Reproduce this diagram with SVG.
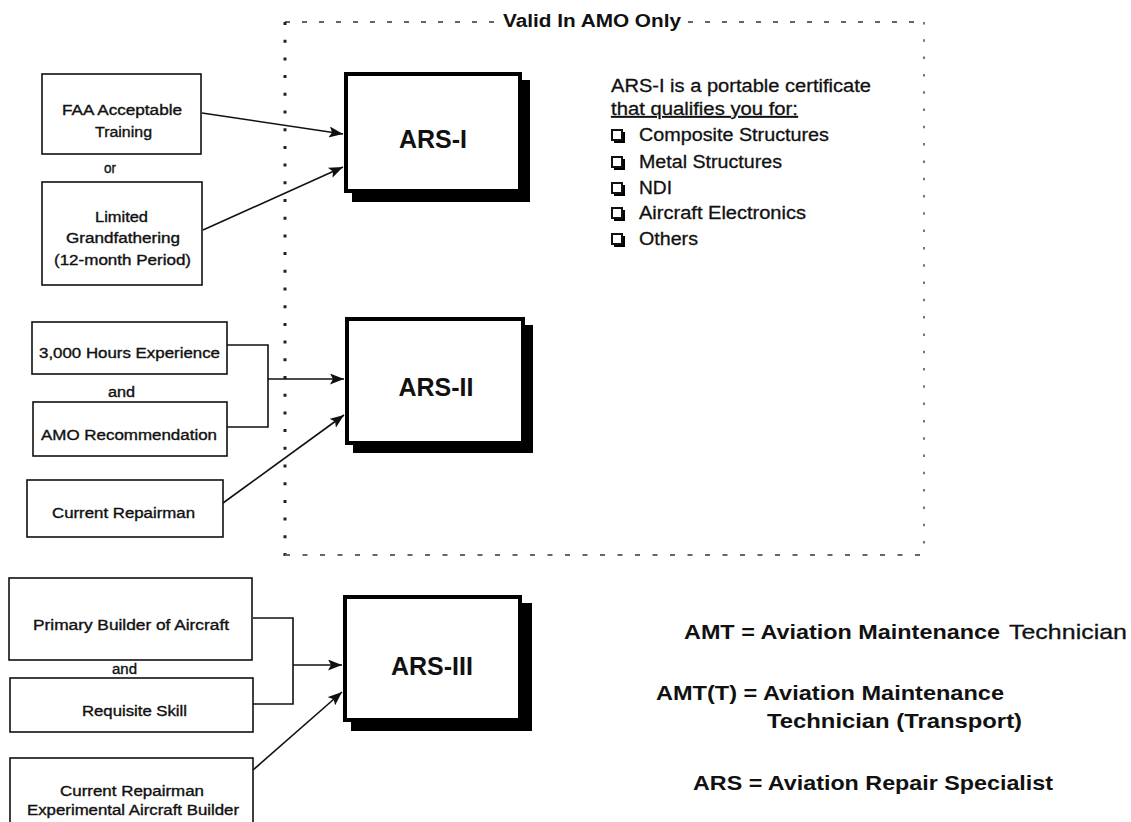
<svg xmlns="http://www.w3.org/2000/svg" width="1131" height="822" viewBox="0 0 1131 822">
<style>
  .bg { fill: #ffffff; }
  .box { fill: #ffffff; stroke: #111; stroke-width: 1.6; }
  .main { fill: #ffffff; stroke: #000; stroke-width: 4; }
  .shadow { fill: #000; }
  .t { font-family: "Liberation Sans", Arial, sans-serif; font-size: 14px; fill: #111; stroke: #111; stroke-width: 0.35; }
  .big { font-family: "Liberation Sans", Arial, sans-serif; font-size: 25px; font-weight: bold; fill: #111; text-anchor: middle; }
  .desc { font-family: "Liberation Sans", Arial, sans-serif; font-size: 18px; fill: #111; stroke: #111; stroke-width: 0.3; }
  .leg { font-family: "Liberation Sans", Arial, sans-serif; font-size: 21px; font-weight: bold; fill: #111; }
  .legn { font-family: "Liberation Sans", Arial, sans-serif; font-size: 21px; fill: #111; stroke: #111; stroke-width: 0.3; }
  .title { font-family: "Liberation Sans", Arial, sans-serif; font-size: 18px; font-weight: bold; fill: #111; }
  .conn { fill: none; stroke: #111; stroke-width: 1.6; }
  .chk { fill: #fff; stroke: #111; stroke-width: 2; }
  .dashT { stroke: #333; stroke-width: 1.6; stroke-dasharray: 5 12; fill: none; }
  .dotL { stroke: #222; stroke-width: 3; stroke-dasharray: 3 14.7; fill: none; }
  .dotR { stroke: #777; stroke-width: 2; stroke-dasharray: 2.5 14.8; fill: none; }
  .dashB { stroke: #666; stroke-width: 2; stroke-dasharray: 5 12.5; fill: none; }
</style>
<defs>
  <marker id="arr" markerUnits="userSpaceOnUse" markerWidth="15" markerHeight="11" refX="14" refY="5.5" orient="auto">
    <path d="M0,0 L14,5.5 L0,11 L3,5.5 z" fill="#111"/>
  </marker>
</defs>
<rect class="bg" x="0" y="0" width="1131" height="822"/>

<g id="amo-region">
  <line class="dashT" x1="285" y1="22" x2="498" y2="22"/>
  <line class="dashT" x1="688" y1="22" x2="924" y2="22"/>
  <line class="dotL" x1="285" y1="22" x2="285" y2="556"/>
  <line class="dotR" x1="924" y1="22" x2="924" y2="556"/>
  <line class="dashB" x1="285" y1="555" x2="924" y2="555"/>
  <text class="title" x="503" y="27" textLength="178" lengthAdjust="spacingAndGlyphs">Valid In AMO Only</text>
</g>

<g id="connectors">
  <line class="conn" x1="202" y1="113" x2="343" y2="134" marker-end="url(#arr)"/>
  <line class="conn" x1="203" y1="230" x2="343" y2="167" marker-end="url(#arr)"/>
  <polyline class="conn" points="227,345 268,345 268,427 227,427"/>
  <line class="conn" x1="268" y1="379" x2="344" y2="379" marker-end="url(#arr)"/>
  <line class="conn" x1="223" y1="503" x2="344" y2="415" marker-end="url(#arr)"/>
  <polyline class="conn" points="253,618 293,618 293,704 253,704"/>
  <line class="conn" x1="293" y1="665" x2="342" y2="665" marker-end="url(#arr)"/>
  <line class="conn" x1="253" y1="770" x2="342" y2="692" marker-end="url(#arr)"/>
</g>

<g id="faa-training">
  <rect class="box" x="42" y="74" width="159" height="80"/>
  <text class="t" x="62" y="115" textLength="120" lengthAdjust="spacingAndGlyphs">FAA Acceptable</text>
  <text class="t" x="95" y="137" textLength="57" lengthAdjust="spacingAndGlyphs">Training</text>
</g>
<text id="label-or" class="t" x="104" y="173" textLength="12" lengthAdjust="spacingAndGlyphs">or</text>
<g id="limited-grandfathering">
  <rect class="box" x="42" y="182" width="160" height="103"/>
  <text class="t" x="95" y="222" textLength="53" lengthAdjust="spacingAndGlyphs">Limited</text>
  <text class="t" x="66" y="243" textLength="114" lengthAdjust="spacingAndGlyphs">Grandfathering</text>
  <text class="t" x="54" y="265" textLength="137" lengthAdjust="spacingAndGlyphs">(12-month Period)</text>
</g>

<g id="hours-experience">
  <rect class="box" x="32" y="322" width="195" height="52"/>
  <text class="t" x="39" y="358" textLength="181" lengthAdjust="spacingAndGlyphs">3,000 Hours Experience</text>
</g>
<text id="label-and-1" class="t" x="108" y="397" textLength="27" lengthAdjust="spacingAndGlyphs">and</text>
<g id="amo-recommendation">
  <rect class="box" x="33" y="402" width="194" height="54"/>
  <text class="t" x="41" y="440" textLength="176" lengthAdjust="spacingAndGlyphs">AMO Recommendation</text>
</g>
<g id="current-repairman">
  <rect class="box" x="27" y="480" width="196" height="57"/>
  <text class="t" x="52" y="518" textLength="143" lengthAdjust="spacingAndGlyphs">Current Repairman</text>
</g>

<g id="primary-builder">
  <rect class="box" x="9" y="578" width="243" height="82"/>
  <text class="t" x="33" y="630" textLength="196" lengthAdjust="spacingAndGlyphs">Primary Builder of Aircraft</text>
</g>
<text id="label-and-2" class="t" x="112" y="674" textLength="25" lengthAdjust="spacingAndGlyphs">and</text>
<g id="requisite-skill">
  <rect class="box" x="10" y="678" width="243" height="54"/>
  <text class="t" x="82" y="716" textLength="105" lengthAdjust="spacingAndGlyphs">Requisite Skill</text>
</g>
<g id="experimental-builder">
  <rect class="box" x="10" y="758" width="243" height="80"/>
  <text class="t" x="60" y="796" textLength="144" lengthAdjust="spacingAndGlyphs">Current Repairman</text>
  <text class="t" x="27" y="815" textLength="212" lengthAdjust="spacingAndGlyphs">Experimental Aircraft Builder</text>
</g>

<g id="ars-1">
  <rect class="shadow" x="352" y="80" width="178" height="122"/>
  <rect class="main" x="346" y="74" width="174" height="117"/>
  <text class="big" x="433" y="148">ARS-I</text>
</g>
<g id="ars-2">
  <rect class="shadow" x="353" y="325" width="180" height="128"/>
  <rect class="main" x="347" y="319" width="176" height="124"/>
  <text class="big" x="436" y="396">ARS-II</text>
</g>
<g id="ars-3">
  <rect class="shadow" x="351" y="603" width="181" height="128"/>
  <rect class="main" x="345" y="597" width="175" height="123"/>
  <text class="big" x="432" y="675">ARS-III</text>
</g>

<g id="ars1-description">
  <text class="desc" x="611" y="92" textLength="260" lengthAdjust="spacingAndGlyphs">ARS-I is a portable certificate</text>
  <text class="desc" x="611" y="115" textLength="187" lengthAdjust="spacingAndGlyphs" text-decoration="underline">that qualifies you for:</text>
  <g id="checkboxes">
    <rect class="shadow" x="614" y="132" width="11" height="11"/>
    <rect class="chk" x="612" y="130" width="10" height="10"/>
    <rect class="shadow" x="614" y="159" width="11" height="11"/>
    <rect class="chk" x="612" y="157" width="10" height="10"/>
    <rect class="shadow" x="614" y="185" width="11" height="11"/>
    <rect class="chk" x="612" y="183" width="10" height="10"/>
    <rect class="shadow" x="614" y="210" width="11" height="11"/>
    <rect class="chk" x="612" y="208" width="10" height="10"/>
    <rect class="shadow" x="614" y="236" width="11" height="11"/>
    <rect class="chk" x="612" y="234" width="10" height="10"/>
  </g>
  <text class="desc" x="639" y="141" textLength="190" lengthAdjust="spacingAndGlyphs">Composite Structures</text>
  <text class="desc" x="639" y="168" textLength="143" lengthAdjust="spacingAndGlyphs">Metal Structures</text>
  <text class="desc" x="639" y="194" textLength="33" lengthAdjust="spacingAndGlyphs">NDI</text>
  <text class="desc" x="639" y="219" textLength="167" lengthAdjust="spacingAndGlyphs">Aircraft Electronics</text>
  <text class="desc" x="639" y="245" textLength="59" lengthAdjust="spacingAndGlyphs">Others</text>
</g>

<g id="legend">
  <text class="leg" x="684" y="639" textLength="316" lengthAdjust="spacingAndGlyphs">AMT = Aviation Maintenance</text>
  <text class="legn" x="1009" y="639" textLength="118" lengthAdjust="spacingAndGlyphs">Technician</text>
  <text class="leg" x="656" y="700" textLength="348" lengthAdjust="spacingAndGlyphs">AMT(T) = Aviation Maintenance</text>
  <text class="leg" x="767" y="728" textLength="255" lengthAdjust="spacingAndGlyphs">Technician (Transport)</text>
  <text class="leg" x="693" y="790" textLength="360" lengthAdjust="spacingAndGlyphs">ARS = Aviation Repair Specialist</text>
</g>
</svg>
